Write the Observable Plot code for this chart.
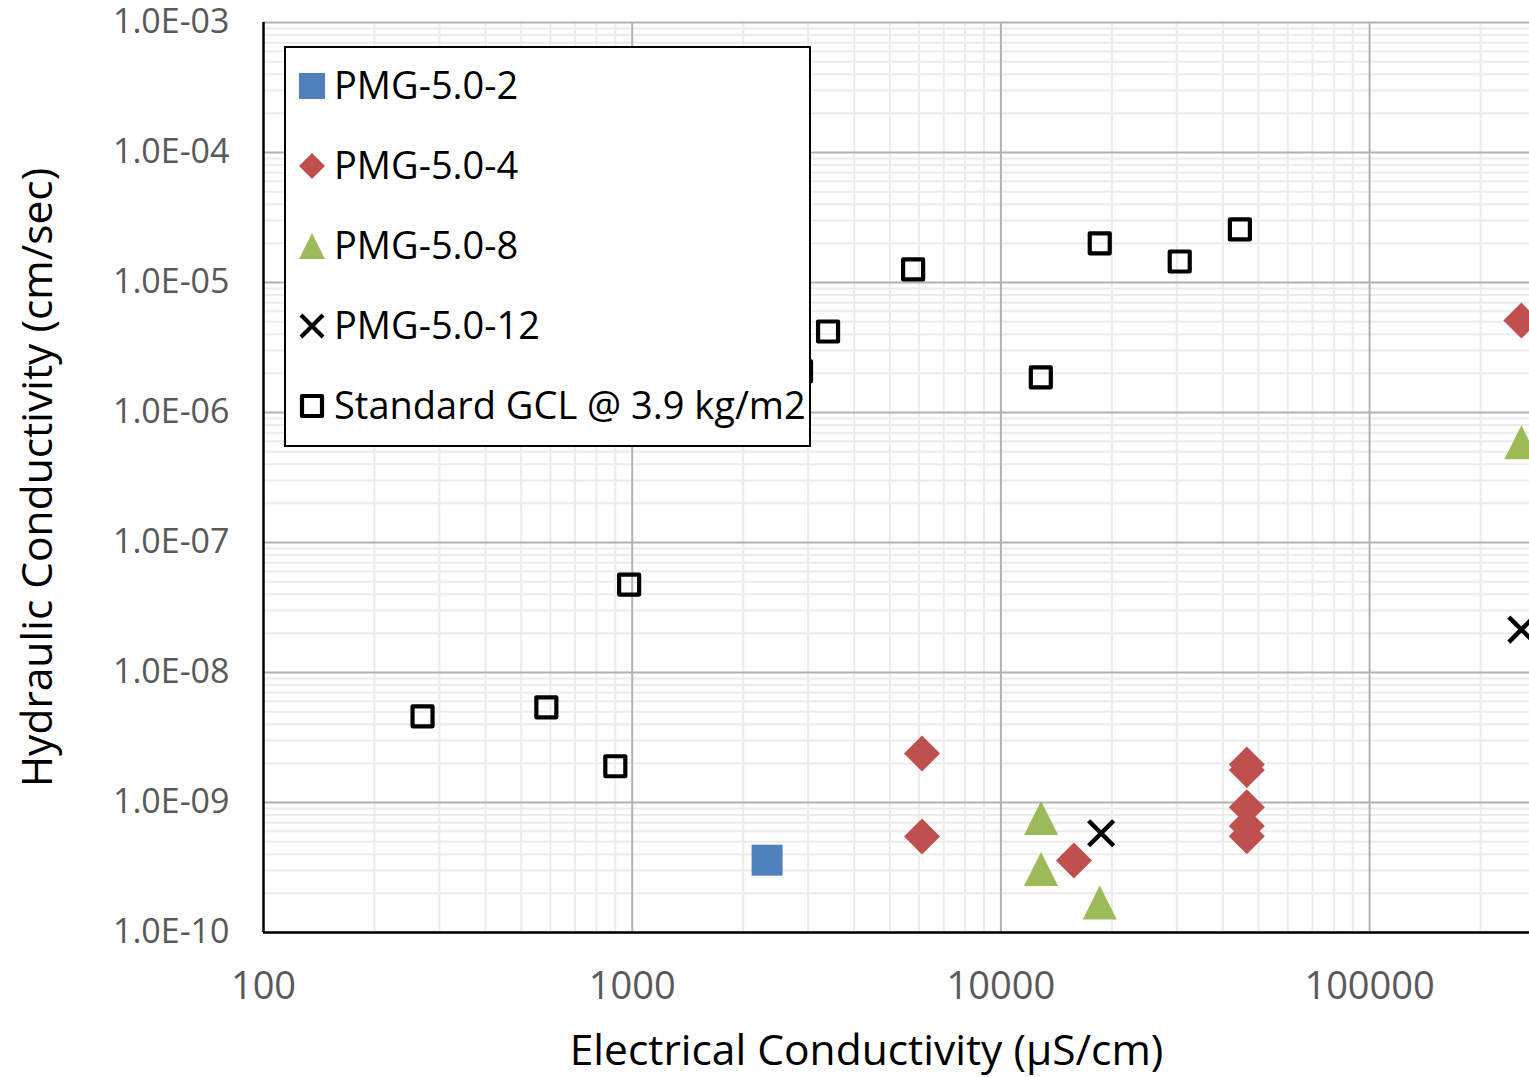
<!DOCTYPE html>
<html>
<head>
<meta charset="utf-8">
<script src="https://cdn.jsdelivr.net/npm/d3@7"></script>
<script src="https://cdn.jsdelivr.net/npm/@observablehq/plot@0.6"></script>
<style>
  html, body { margin: 0; padding: 0; background: white; }
  #wrap { position: relative; width: 1529px; height: 1077px; overflow: hidden; font-family: "Open Sans", sans-serif; }
  #legend { position: absolute; left: 284px; top: 46px; width: 527px; height: 401px; box-sizing: border-box;
            border: 2px solid #000; background: #fff; }
  .entry { position: absolute; left: 0; height: 40px; }
  .entry svg { position: absolute; left: 12px; top: 6px; }
  .entry span { position: absolute; left: 48px; top: -2px; font-size: 38px; line-height: 40px; color: #000; white-space: nowrap; }
</style>
</head>
<body>
<div id="wrap"><div id="chart"></div><div id="legend"></div></div>
<script>
// ---- data ----
const seriesNames = ["PMG-5.0-2", "PMG-5.0-4", "PMG-5.0-8", "PMG-5.0-12", "Standard GCL @ 3.9 kg/m2"];

const pmg2X = [2322];
const pmg2Y = [3.6e-10];

const pmg4X = [6110, 6110, 15780, 46450, 46450, 46450, 46450, 46450, 258000];
const pmg4Y = [2.38e-9, 5.47e-10, 3.58e-10, 1.96e-9, 1.78e-9, 9.2e-10, 6.6e-10, 5.5e-10, 5.1e-6];

const pmg8X = [12850, 12850, 18540, 258000];
const pmg8Y = [7.6e-10, 3.08e-10, 1.70e-10, 5.9e-7];

const pmg12X = [18700, 258000];
const pmg12Y = [5.8e-10, 2.14e-8];

const gclX = [270, 585, 900, 981, 2870, 3398, 5780, 12830, 18540, 30550, 44480];
const gclY = [4.6e-9, 5.4e-9, 1.9e-9, 4.75e-8, 2.07e-6, 4.2e-6, 1.26e-5, 1.86e-6, 2.0e-5, 1.45e-5, 2.56e-5];

const xTicks = [100, 1000, 10000, 100000];
const xTickLabels = ["100", "1000", "10000", "100000"];
const yTicks = [1e-10, 1e-9, 1e-8, 1e-7, 1e-6, 1e-5, 1e-4, 1e-3];
const yTickLabels = ["1.0E-10", "1.0E-09", "1.0E-08", "1.0E-07", "1.0E-06", "1.0E-05", "1.0E-04", "1.0E-03"];

const xTitle = "Electrical Conductivity (µS/cm)";
const yTitle = "Hydraulic Conductivity (cm/sec)";

const colors = { blue: "#4F81BD", red: "#C0504D", green: "#9BBB59", black: "#000000" };

// ---- helpers ----
const zip = (xs, ys) => xs.map((x, i) => ({x, y: ys[i]}));
const minorOf = (decades) => decades.slice(0, -1).flatMap(d => [2,3,4,5,6,7,8,9].map(m => d * m));
const xMinor = minorOf([100, 1000, 10000, 100000, 1000000]).filter(v => v < 271500);
const yMinor = minorOf(yTicks);

// custom symbols (r = sqrt(size/pi))
const R = (size) => Math.sqrt(size / Math.PI);
const symSquare = { draw(c, s) { const r = R(s); c.moveTo(-r, -r); c.lineTo(r, -r); c.lineTo(r, r); c.lineTo(-r, r); c.closePath(); } };
const symDiamond = { draw(c, s) { const r = R(s); c.moveTo(0, -r); c.lineTo(r, 0); c.lineTo(0, r); c.lineTo(-r, 0); c.closePath(); } };
const symTriangle = { draw(c, s) { const r = R(s); c.moveTo(0, -r); c.lineTo(r, r); c.lineTo(-r, r); c.closePath(); } };
const symTimes = { draw(c, s) { const r = R(s); c.moveTo(-r, -r); c.lineTo(r, r); c.moveTo(r, -r); c.lineTo(-r, r); } };

const xMax = Math.pow(10, 2 + 1266 / 368.7);

const chart = Plot.plot({
  width: 1529,
  height: 1077,
  marginLeft: 263,
  marginRight: 0,
  marginTop: 22,
  marginBottom: 145,
  style: { fontFamily: "Open Sans, sans-serif", background: "white" },
  x: { type: "log", domain: [100, xMax] },
  y: { type: "log", domain: [1e-10, 1e-3] },
  marks: [
    Plot.ruleX(xMinor, { stroke: "#ebebeb", strokeWidth: 2 }),
    Plot.ruleY(yMinor, { stroke: "#ebebeb", strokeWidth: 2 }),
    Plot.ruleX(xTicks.slice(1), { stroke: "#b2b2b2", strokeWidth: 2 }),
    Plot.ruleY(yTicks, { stroke: "#b2b2b2", strokeWidth: 2 }),
    Plot.axisY({ ticks: yTicks, tickFormat: (d) => yTickLabels[yTicks.indexOf(d)], tickSize: 0, tickPadding: 34,
                 fontSize: 34, fill: "#595959", label: null }),
    Plot.axisX({ ticks: xTicks, tickFormat: (d) => xTickLabels[xTicks.indexOf(d)], tickSize: 0, tickPadding: 40,
                 fontSize: 38, fill: "#595959", label: null }),
    Plot.ruleX([100], { stroke: "#000", strokeWidth: 2.5 }),
    Plot.ruleY([1e-10], { stroke: "#000", strokeWidth: 2.5 }),
    Plot.text([xTitle], { frameAnchor: "bottom", dx: -30, dy: 132, fontSize: 42.5, fill: "#000", text: d => d }),
    Plot.text([yTitle], { frameAnchor: "left", dx: -225, rotate: -90, textAnchor: "middle", fontSize: 42.5, fill: "#000", text: d => d }),
    // Standard GCL: open squares
    Plot.dot(zip(gclX, gclY), { x: "x", y: "y", symbol: symSquare, r: 10, fill: "none", stroke: colors.black, strokeWidth: 4.2, strokeLinejoin: "round" }),
    // PMG-5.0-2
    Plot.dot(zip(pmg2X, pmg2Y), { x: "x", y: "y", symbol: symSquare, r: 15.5, fill: colors.blue, stroke: "none" }),
    // PMG-5.0-4
    Plot.dot(zip(pmg4X, pmg4Y), { x: "x", y: "y", symbol: symDiamond, r: 18, fill: colors.red, stroke: "none" }),
    // PMG-5.0-8
    Plot.dot(zip(pmg8X, pmg8Y), { x: "x", y: "y", symbol: symTriangle, r: 17, fill: colors.green, stroke: "none" }),
    // PMG-5.0-12
    Plot.dot(zip(pmg12X, pmg12Y), { x: "x", y: "y", symbol: symTimes, r: 12.5, fill: "none", stroke: colors.black, strokeWidth: 4.5 })
  ]
});
document.getElementById("chart").appendChild(chart);

// ---- legend overlay ----
const legendMarkers = [
  `<rect x="1" y="1" width="26" height="26" fill="${colors.blue}"/>`,
  `<path d="M14,1 L27,14 L14,27 L1,14 Z" fill="${colors.red}"/>`,
  `<path d="M14,1 L27,27 L1,27 Z" fill="${colors.green}"/>`,
  `<path d="M3,3 L25,25 M25,3 L3,25" stroke="#000" stroke-width="4.2" fill="none"/>`,
  `<rect x="4" y="4" width="20" height="20" fill="none" stroke="#000" stroke-width="4.2" stroke-linejoin="round"/>`
];
const legend = document.getElementById("legend");
seriesNames.forEach((name, i) => {
  const e = document.createElement("div");
  e.className = "entry";
  e.style.top = (18 + i * 80) + "px";
  e.innerHTML = `<svg width="28" height="28" viewBox="0 0 28 28">${legendMarkers[i]}</svg><span>${name}</span>`;
  legend.appendChild(e);
});
</script>
</body>
</html>
